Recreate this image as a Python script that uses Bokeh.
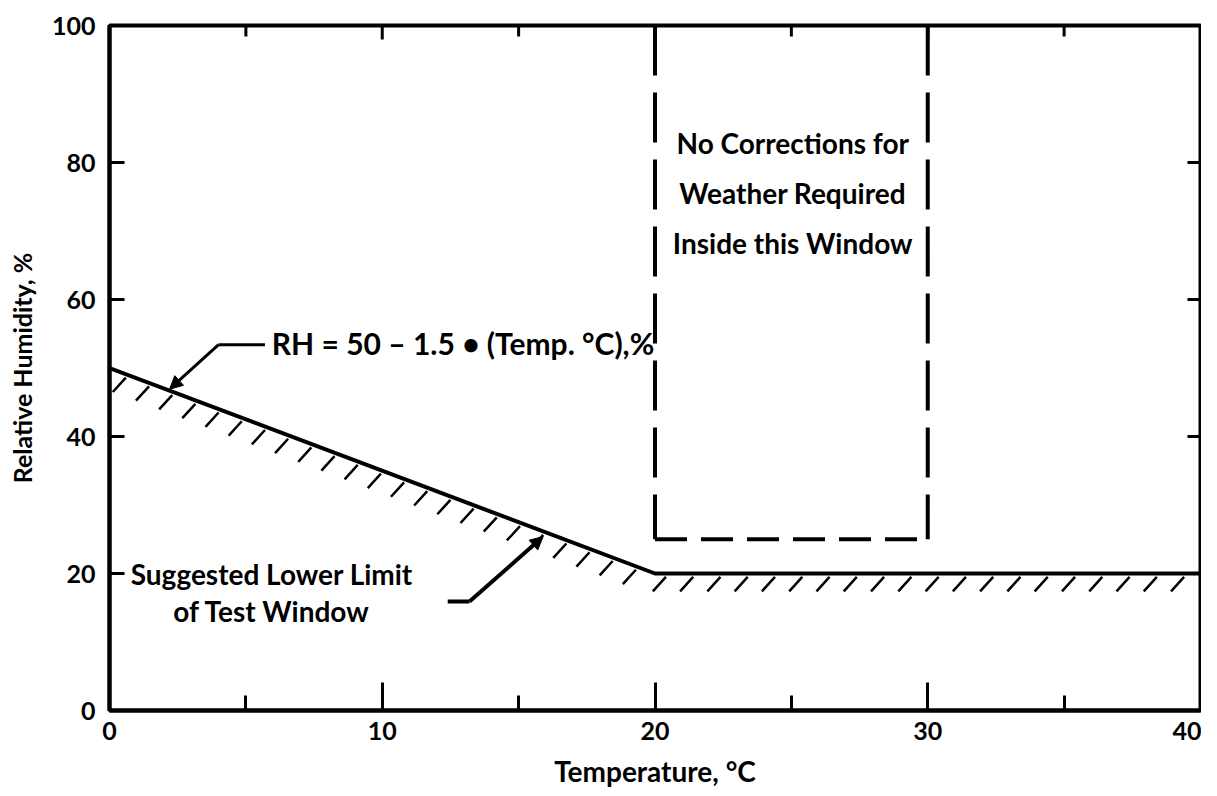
import numpy as np
from bokeh.plotting import figure
from bokeh.models import Range1d, LinearAxis, FixedTicker, Arrow, NormalHead
from bokeh.core.properties import value
from bokeh.embed import file_html
from bokeh.resources import INLINE

# ---- data ----
temp_ticks = [0, 10, 20, 30, 40]
temp_minor_ticks = [5, 15, 25, 35]
top_major_ticks = [10, 20, 30]
rh_ticks = [0, 20, 40, 60, 80, 100]
rh_inner_ticks = [20, 40, 60, 80]

limit_temp = [0, 20, 40]          # suggested lower limit: RH = 50 - 1.5*T, floor 20 %
limit_rh = [50, 20, 20]

window_temp = [20, 20, 30, 30]    # "no corrections" window
window_rh = [100, 25, 25, 100]

formula_label = "RH = 50 \u2013 1.5 \u2022 (Temp. \u00b0C),%"
window_label = ["No Corrections for", "Weather Required", "Inside this Window"]
limit_label = ["Suggested Lower Limit", "of Test Window"]

FONT = "Lato"
X0, X1, Y0, Y1 = 0, 40, 0, 100

W, H = 1201, 795
BL, BR, BT, BB = 109, 1, 25, 85

p = figure(width=W, height=H, output_backend="svg", toolbar_location=None,
           x_range=Range1d(X0, X1), y_range=Range1d(Y0, Y1),
           min_border_left=BL, min_border_right=BR, min_border_top=BT, min_border_bottom=BB,
           x_axis_location=None, y_axis_location=None)
p.grid.visible = False
p.outline_line_color = "black"
p.outline_line_width = 4
p.background_fill_color = "white"


def style_axis(ax, major_in, minor_in):
    ax.axis_line_width = 4
    ax.axis_line_color = "black"
    ax.major_tick_in = major_in
    ax.major_tick_out = 0
    ax.minor_tick_in = minor_in
    ax.minor_tick_out = 0
    ax.major_tick_line_width = 3
    ax.minor_tick_line_width = 3
    ax.major_tick_line_color = "black"
    ax.minor_tick_line_color = "black" if minor_in else None
    ax.major_label_text_font = FONT
    ax.major_label_text_font_style = "bold"
    ax.major_label_text_font_size = "25px"
    ax.major_label_text_color = "black"
    ax.axis_label_text_font = FONT
    ax.axis_label_text_font_style = "bold"
    ax.axis_label_text_color = "black"


xb = LinearAxis(ticker=FixedTicker(ticks=temp_ticks, minor_ticks=temp_minor_ticks),
                axis_label="Temperature, \u00b0C")
style_axis(xb, 28, 15)
xb.axis_label_text_font_size = "28px"
xb.major_label_standoff = 11
xb.axis_label_standoff = 11
p.add_layout(xb, "below")

yl = LinearAxis(ticker=FixedTicker(ticks=rh_ticks, minor_ticks=[]),
                axis_label="Relative Humidity, %")
style_axis(yl, 15, 0)
yl.axis_label_text_font_size = "25px"
yl.major_label_standoff = 14
yl.axis_label_standoff = 12
p.add_layout(yl, "left")

# inward ticks on the top and right frame edges (no labels)
px_x = (X1 - X0) / float(W - BL - BR)   # data units per pixel, x
px_y = (Y1 - Y0) / float(H - BT - BB)   # data units per pixel, y
p.segment(x0=top_major_ticks, y0=[Y1] * 3, x1=top_major_ticks, y1=[Y1 - 14 * px_y] * 3,
          line_color="black", line_width=3)
p.segment(x0=temp_minor_ticks, y0=[Y1] * 4, x1=temp_minor_ticks, y1=[Y1 - 11 * px_y] * 4,
          line_color="black", line_width=3)
p.segment(x0=[X1] * 4, y0=rh_inner_ticks, x1=[X1 - 13 * px_x] * 4, y1=rh_inner_ticks,
          line_color="black", line_width=3)

# ---- lower-limit line ----
p.line(limit_temp, limit_rh, line_color="black", line_width=4)

# hatching under the lower-limit line
hx = np.concatenate([np.arange(0.6, 19.7, 0.85), np.arange(20.4, 39.9, 1.0)])
hy = np.interp(hx, limit_temp, limit_rh)
p.segment(x0=hx, y0=hy - 0.5, x1=hx - 0.48, y1=hy - 2.6,
          line_color="black", line_width=2.5)

# ---- dashed window ----
p.line(window_temp[:2], window_rh[:2], line_color="black", line_width=4, line_dash="50 17")
p.line(window_temp[2:][::-1], window_rh[2:][::-1], line_color="black", line_width=4, line_dash="50 17")
p.line(window_temp[1:3], window_rh[1:3], line_color="black", line_width=4, line_dash="32 14")

# window text
p.text(x=[25.05] * 3, y=[82.8, 75.5, 68.3], text=window_label,
       text_font=value(FONT), text_font_style="bold", text_font_size="28px",
       text_align="center", text_baseline="middle", text_color="black")

# formula annotation
p.text(x=[5.95], y=[53.6], text=[formula_label],
       text_font=value(FONT), text_font_style="bold", text_font_size="30px",
       text_align="left", text_baseline="middle", text_color="black")
p.line([5.7, 4.0], [53.4, 53.4], line_color="black", line_width=3)
p.add_layout(Arrow(end=NormalHead(size=13, fill_color="black", line_color="black"),
                   x_start=4.0, y_start=53.4, x_end=2.2, y_end=46.9,
                   line_color="black", line_width=3))

# lower-limit annotation
p.text(x=[5.95] * 2, y=[19.9, 14.5], text=limit_label,
       text_font=value(FONT), text_font_style="bold", text_font_size="28px",
       text_align="center", text_baseline="middle", text_color="black")
p.line([12.4, 13.2], [15.9, 15.9], line_color="black", line_width=4)
p.add_layout(Arrow(end=NormalHead(size=13, fill_color="black", line_color="black"),
                   x_start=13.2, y_start=15.9, x_end=15.9, y_end=25.4,
                   line_color="black", line_width=4))

open("out.html", "w").write(file_html(p, INLINE))
